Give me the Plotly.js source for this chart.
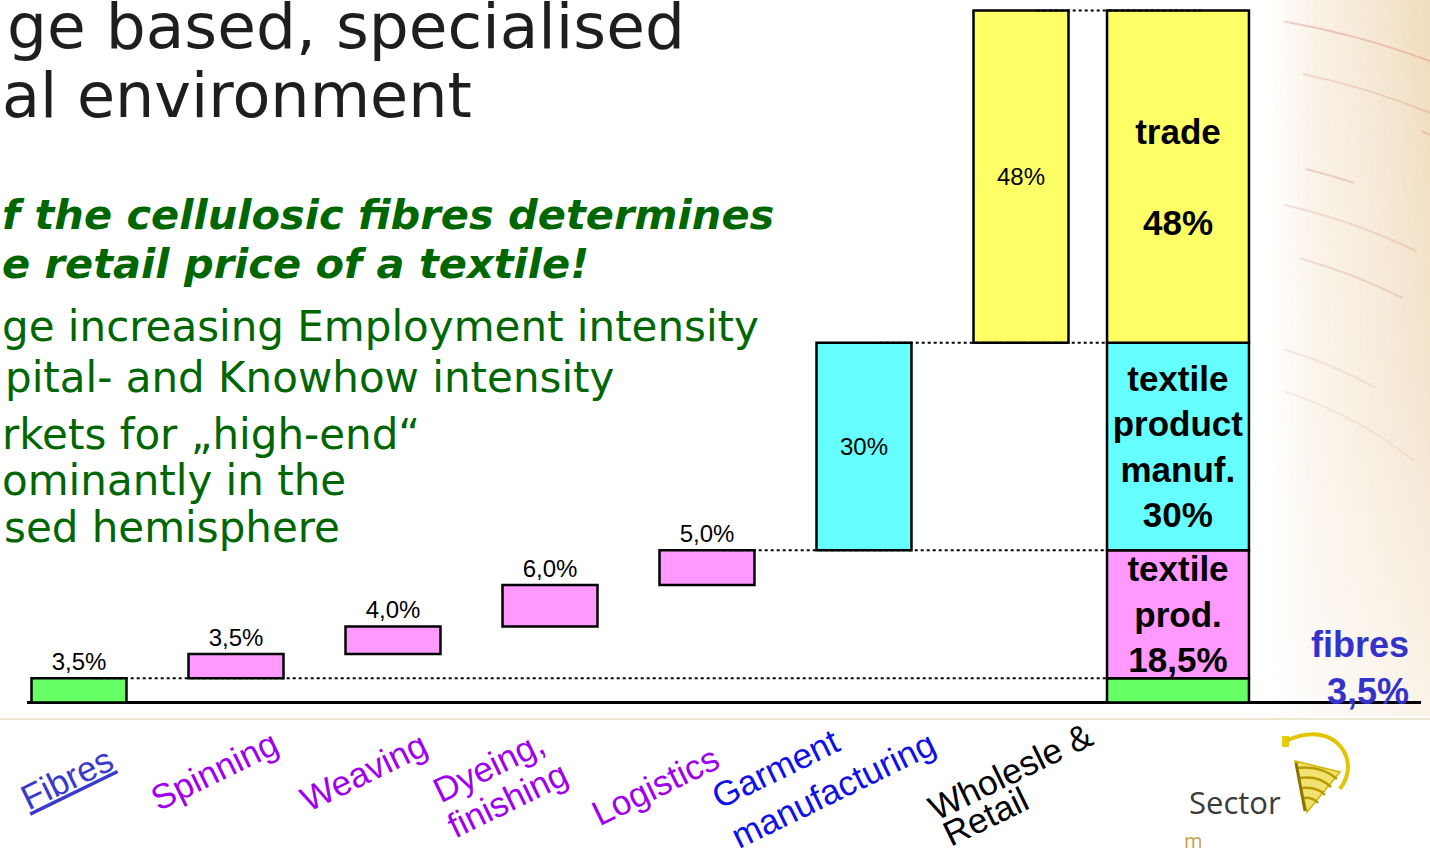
<!DOCTYPE html>
<html><head><meta charset="utf-8">
<script src="https://cdn.plot.ly/plotly-3.0.1.min.js"></script>
<style>
html,body{margin:0;padding:0;background:#fff;}
#wrap{position:relative;width:1430px;height:857px;overflow:hidden;}
#bg{position:absolute;left:0;top:0;}
#chart{position:absolute;left:0;top:0;width:1430px;height:857px;}
</style></head><body>
<div id="wrap">
<svg id="bg" width="1430" height="857" xmlns="http://www.w3.org/2000/svg">
  <defs>
    <linearGradient id="hg" gradientUnits="userSpaceOnUse" x1="1270" y1="0" x2="1430" y2="0">
      <stop offset="0" stop-color="#f5e7d2" stop-opacity="0"/>
      <stop offset="0.3" stop-color="#f5e7d2" stop-opacity="0.6"/>
      <stop offset="1" stop-color="#f0dcbe" stop-opacity="1"/>
    </linearGradient>
    <linearGradient id="vg" gradientUnits="userSpaceOnUse" x1="0" y1="0" x2="0" y2="716">
      <stop offset="0" stop-color="#fff" stop-opacity="1"/>
      <stop offset="0.55" stop-color="#fff" stop-opacity="0.75"/>
      <stop offset="1" stop-color="#fff" stop-opacity="0.35"/>
    </linearGradient>
    <mask id="fade"><rect x="1270" y="0" width="160" height="716" fill="url(#vg)"/></mask>
    <clipPath id="arcclip"><rect x="1284" y="0" width="146" height="700"/></clipPath>
  </defs>
  <rect x="1270" y="0" width="160" height="716" fill="url(#hg)" mask="url(#fade)"/>
  <g clip-path="url(#arcclip)" fill="none" stroke="#d27a6c">
    <circle cx="1150" cy="800" r="790" stroke-opacity="0.35" stroke-width="2" stroke-dasharray="160 30 400"/>
    <circle cx="1150" cy="800" r="742" stroke-opacity="0.25" stroke-width="2" stroke-dasharray="90 60 200"/>
    <circle cx="1150" cy="800" r="722" stroke-opacity="0.3" stroke-width="2" stroke-dasharray="120 40 300"/>
    <circle cx="1150" cy="800" r="650" stroke-opacity="0.3" stroke-width="2" stroke-dasharray="140 50 250"/>
    <circle cx="1150" cy="800" r="610" stroke-opacity="0.2" stroke-width="2" stroke-dasharray="80 70 200"/>
    <circle cx="1150" cy="800" r="562" stroke-opacity="0.25" stroke-width="2" stroke-dasharray="110 40 200"/>
    <circle cx="1150" cy="800" r="470" stroke-opacity="0.15" stroke-width="2" stroke-dasharray="90 60 200"/>
    <circle cx="1150" cy="800" r="430" stroke-opacity="0.12" stroke-width="2" stroke-dasharray="70 60 200"/>
  </g>
  <line x1="0" y1="719" x2="1430" y2="719" stroke="#eee7d2" stroke-width="2"/>
  <g>
    <rect x="1282" y="736" width="7" height="11" fill="#e8cc10"/>
    <path d="M1286,741 C1302,733 1322,731 1336,742 C1349,753 1353,771 1340,789" fill="none" stroke="#e2c400" stroke-width="4"/>
    <path d="M1295,761 L1340,772 L1307,812 Z" fill="#f2e370" stroke="#d2b400" stroke-width="1.5"/>
    <path d="M1297,768 Q1321,765 1337,779" fill="none" stroke="#b89a00" stroke-width="2.5"/>
    <path d="M1299,778 Q1319,775 1331,787" fill="none" stroke="#b89a00" stroke-width="2.5"/>
    <path d="M1301,788 Q1317,786 1325,795" fill="none" stroke="#b89a00" stroke-width="2.5"/>
    <path d="M1303,798 Q1313,797 1318,803" fill="none" stroke="#b89a00" stroke-width="2.5"/>
    <path d="M1296,763 L1305,811" fill="none" stroke="#8a7400" stroke-width="3"/>
  </g>
</svg>
<div id="chart"></div>
</div>
<script>
// ---------- data ----------
const stages = ['Fibres', 'Spinning', 'Weaving', 'Dyeing, finishing', 'Logistics', 'Garment manufacturing', 'Wholesle & Retail'];
const stageValues = [3.5, 3.5, 4.0, 6.0, 5.0, 30, 48];
const stageLabels = ['3,5%', '3,5%', '4,0%', '6,0%', '5,0%', '30%', '48%'];
const stageDisplay = ['<span style="text-decoration:underline">Fibres</span>', 'Spinning', 'Weaving', 'Dyeing,<br>finishing', 'Logistics', 'Garment<br>manufacturing', 'Wholesle &<br>Retail'];

const totalCategory = 'Total';
const stackNames = ['fibres', 'textile<br>prod.', 'textile<br>product<br>manuf.', 'trade<br>'];
const stackValues = [3.5, 18.5, 30, 48];
const stackLabels = ['3,5%', '18,5%', '30%', '48%'];

// ---------- styles / text placement ----------
const stageColors = ['#66ff66', '#ff99ff', '#ff99ff', '#ff99ff', '#ff99ff', '#66ffff', '#ffff66'];
const stackColors = ['#66ff66', '#ff99ff', '#66ffff', '#ffff66'];
const labelColors = ['#3a3acc', '#a000f0', '#a000f0', '#a000f0', '#a000f0', '#1010e8', '#000000'];
// centre (px) of every line of each category label
const labelLinePos = [
  [[66, 778]],
  [[214, 770]],
  [[364, 772]],
  [[488, 766], [507, 799]],
  [[655, 785]],
  [[775, 768], [833, 789]],
  [[1010, 772], [985, 817]]
];
const SANS = 'Liberation Sans, Arial, sans-serif';
const DEJA = 'DejaVu Sans, Verdana, sans-serif';

// ---------- derived ----------
function cumBase(vals) { let a = 0; return vals.map(v => { const b = a; a += v; return b; }); }
const stageBase = cumBase(stageValues);
const stackBase = cumBase(stackValues);
const allCats = stages.concat([totalCategory]);
const totalIdx = allCats.length - 1;
const stageWidth = 0.605, stackWidth = 0.904;

const W = 1430, H = 857, ML = 27, MR = 9, MT = 7, MB = 151;
const PW = W - ML - MR, PH = H - MT - MB;
const pxX = x => (x - ML) / PW;
const pxY = y => (H - MB - y) / PH;

const stageTrace = {
  type: 'bar', x: stages, y: stageValues, base: stageBase, width: stageWidth,
  marker: { color: stageColors, line: { color: '#000', width: 2.5 } },
  text: stageLabels,
  textposition: stageValues.map(v => v >= 20 ? 'inside' : 'outside'),
  insidetextanchor: 'middle', textangle: 0, constraintext: 'none', cliponaxis: false,
  textfont: { family: SANS, size: 24, color: '#000' },
  hoverinfo: 'skip', showlegend: false
};

const stackTrace = {
  type: 'bar', x: stackValues.map(() => totalCategory), y: stackValues, base: stackBase, width: stackWidth,
  marker: { color: stackColors, line: { color: '#000', width: 2.5 } },
  text: stackValues.map((v, i) => i === 0 ? '' : '<b>' + stackNames[i] + '<br>' + stackLabels[i] + '</b>'),
  textposition: 'inside', insidetextanchor: 'middle', textangle: 0, constraintext: 'none',
  textfont: { family: SANS, size: 35, color: '#000' },
  hoverinfo: 'skip', showlegend: false
};

// dotted connectors at every boundary of the stacked total
const shapes = [];
stackValues.forEach((v, i) => {
  const level = stackBase[i] + v;
  const k = stageValues.findIndex((sv, j) => Math.abs(stageBase[j] + sv - level) < 1e-9);
  if (k < 0) return;
  const last = i === stackValues.length - 1;
  shapes.push({
    type: 'line', xref: 'x', yref: 'y',
    x0: k + 0.1, x1: last ? totalIdx + 0.15 : totalIdx - stackWidth / 2,
    y0: level, y1: level,
    line: { color: '#000', width: 2, dash: 'dot' }, layer: 'above'
  });
});

const annotations = [];
// category labels (one annotation per line)
stageDisplay.forEach((lab, i) => {
  lab.split('<br>').forEach((line, j) => {
    const p = labelLinePos[i][j];
    annotations.push({
      text: line, xref: 'paper', x: pxX(p[0]), xanchor: 'center',
      yref: 'paper', y: pxY(p[1]), yanchor: 'middle',
      textangle: -26, showarrow: false,
      font: { family: SANS, size: 35, color: labelColors[i] }
    });
  });
});
// fibres label at the right of the total column
annotations.push({
  text: '<b>' + stackNames[0] + '<br>' + stackLabels[0] + '</b>',
  xref: 'paper', x: pxX(1411), xanchor: 'right', yref: 'paper', y: pxY(668), yanchor: 'middle',
  align: 'right', showarrow: false, font: { family: SANS, size: 36, color: '#3333cc' }
});
// slide texts (left edge at the slide crop)
const slideText = [
  { t: 'ge based, specialised', l: 6, c: 26, size: 63, color: '#1e1e1e' },
  { t: 'al environment', l: 1, c: 95, size: 62, color: '#1e1e1e' },
  { t: 'f the cellulosic fibres determines', l: 1, c: 214, size: 41.5, color: '#006600', bi: true },
  { t: 'e retail price of a textile!', l: 1, c: 264, size: 41.5, color: '#006600', bi: true },
  { t: 'ge increasing Employment intensity', l: 1, c: 326, size: 42, color: '#006600' },
  { t: 'pital- and Knowhow intensity', l: 4, c: 377, size: 42, color: '#006600' },
  { t: 'rkets for \u201Ehigh-end\u201C', l: 1, c: 434, size: 42, color: '#006600' },
  { t: 'ominantly in the', l: 1, c: 480, size: 42, color: '#006600' },
  { t: 'sed hemisphere', l: 3, c: 527, size: 42, color: '#006600' }
];
slideText.forEach(o => {
  annotations.push({
    text: o.t, xref: 'paper', x: pxX(o.l), xanchor: 'left', yref: 'paper', y: pxY(o.c), yanchor: 'middle',
    showarrow: false, borderpad: 0,
    font: { family: DEJA, size: o.size, color: o.color, weight: o.bi ? 'bold' : 'normal', style: o.bi ? 'italic' : 'normal' }
  });
});
// logo text
annotations.push({ text: 'Sector', xref: 'paper', x: pxX(1235), xanchor: 'center', yref: 'paper', y: pxY(802), yanchor: 'middle', showarrow: false,
  borderpad: 0, font: { family: 'Open Sans, sans-serif', size: 31, color: '#3c3c3c' } });
annotations.push({ text: 'm', xref: 'paper', x: pxX(1193), xanchor: 'center', yref: 'paper', y: pxY(840), yanchor: 'middle', showarrow: false,
  borderpad: 0, font: { family: 'Open Sans, sans-serif', size: 20, color: '#c9a04a' } });

const layout = {
  width: W, height: H, autosize: false,
  margin: { l: ML, r: MR, t: MT, b: MB, pad: 0 },
  paper_bgcolor: 'rgba(0,0,0,0)', plot_bgcolor: 'rgba(0,0,0,0)',
  barmode: 'overlay', showlegend: false,
  xaxis: { type: 'category', categoryorder: 'array', categoryarray: allCats,
    range: [-0.3312, 8.5478], showticklabels: false, showgrid: false, zeroline: false, showline: false, ticks: '', fixedrange: true },
  yaxis: { range: [-0.5, 100.5], showticklabels: false, showgrid: false, showline: false, ticks: '',
    zeroline: true, zerolinecolor: '#000', zerolinewidth: 2.5, fixedrange: true },
  shapes: shapes,
  annotations: annotations
};

Plotly.newPlot('chart', [stageTrace, stackTrace], layout, { staticPlot: true, displayModeBar: false });
</script>
</body></html>
